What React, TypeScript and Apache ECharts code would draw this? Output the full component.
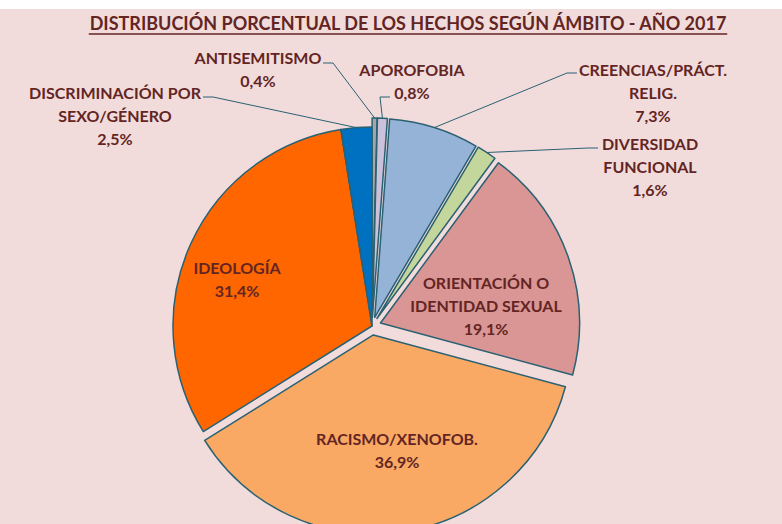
import React, { useEffect, useRef } from 'react';
import * as echarts from 'echarts';

// ---- data ----
const CATEGORIES = [
  'ANTISEMITISMO',
  'APOROFOBIA',
  'CREENCIAS/PRÁCT.\nRELIG.',
  'DIVERSIDAD\nFUNCIONAL',
  'ORIENTACIÓN O\nIDENTIDAD SEXUAL',
  'RACISMO/XENOFOB.',
  'IDEOLOGÍA',
  'DISCRIMINACIÓN POR\nSEXO/GÉNERO',
];
const PERCENTS = [0.4, 0.8, 7.3, 1.6, 19.1, 36.9, 31.4, 2.5];
const EXPLODED = [true, true, true, true, true, true, false, false];
const INSIDE = [false, false, false, false, true, true, true, false];
const TITLE = 'DISTRIBUCIÓN PORCENTUAL DE LOS HECHOS SEGÚN ÁMBITO - AÑO 2017';

// ---- styles / layout ----
const COLORS = ['#a6a6a6', '#ccc1da', '#95b3d7', '#c3d69b', '#da9694', '#f9a964', '#ff6600', '#0070c0'];
const TEXT_COLOR = '#632523';
const EDGE = '#2a6173';
const CENTER = [372, 326];
const RADIUS = 199;
const OFFSET = 9;
const LABEL_POS: number[][] = [
  [258, 68.5], [412, 80.5], [653, 92], [650, 166], [486, 305], [397, 449.5], [237, 278.5], [115, 115],
];
const LEADER_ATTACH: (number[] | null)[] = [
  [323, 63], [390, 97], [577, 73], [598, 148], null, null, null, [203, 97],
];
const FONT = 'Lato';

const fmt = (v: number) => v.toFixed(1).replace('.', ',') + '%';

export default function App() {
  const ref = useRef<HTMLDivElement>(null);
  useEffect(() => {
    document.body.style.margin = '0';
    const chart = echarts.init(ref.current!, null, { renderer: 'svg' });
    const total = PERCENTS.reduce((a, b) => a + b, 0);
    const midAngles: number[] = [];
    let acc = 0;
    PERCENTS.forEach((v) => {
      midAngles.push(((acc + v / 2) / total) * Math.PI * 2);
      acc += v;
    });

    const titleFont = `bold 18px ${FONT}`;
    const ctx = document.createElement('canvas').getContext('2d')!;
    ctx.font = titleFont;
    const tw = ctx.measureText(TITLE).width;
    const tx = 408;

    // one pie series per slice, so that each slice can be pulled out on its own
    const series = CATEGORIES.map((_, i) => {
      const off = EXPLODED[i] ? OFFSET : 0;
      const cx = CENTER[0] + off * Math.sin(midAngles[i]);
      const cy = CENTER[1] - off * Math.cos(midAngles[i]);
      return {
        type: 'pie',
        center: [cx, cy],
        radius: RADIUS,
        startAngle: 90,
        clockwise: true,
        avoidLabelOverlap: false,
        silent: true,
        label: {
          formatter: (p: any) => `${p.name}\n${fmt(p.value)}`,
          fontFamily: FONT,
          fontWeight: 'bold',
          fontSize: 16,
          color: TEXT_COLOR,
          lineHeight: 23,
          align: 'center',
        },
        labelLine: { lineStyle: { color: EDGE, width: 1 }, length: 10, length2: 10 },
        labelLayout: (params: any) => {
          const j = params.dataIndex;
          if (j !== i) return {};
          const [x, y] = LABEL_POS[j];
          const out: any = { x, y, align: 'center', verticalAlign: 'middle' };
          const att = LEADER_ATTACH[j];
          if (att) {
            const a = midAngles[j];
            const ax = cx + RADIUS * Math.sin(a);
            const ay = cy - RADIUS * Math.cos(a);
            const ex = att[0] + (ax < att[0] ? -10 : 10);
            out.labelLinePoints = [[ax, ay], [ex, att[1]], [att[0], att[1]]];
          }
          return out;
        },
        data: CATEGORIES.map((name, j) => ({
          name,
          value: PERCENTS[j],
          itemStyle:
            j === i
              ? { color: COLORS[j], borderColor: EDGE, borderWidth: 1.5 }
              : { color: 'rgba(0,0,0,0)', borderWidth: 0 },
          label: { show: j === i, position: INSIDE[j] ? 'inside' : 'outside' },
          labelLine: { show: j === i && !INSIDE[j] },
        })),
      };
    });

    chart.setOption({
      animation: false,
      backgroundColor: '#f2dcdb',
      graphic: [
        { type: 'rect', shape: { x: 0, y: 0, width: 782, height: 9 }, style: { fill: '#ffffff' }, silent: true },
        {
          type: 'text', x: tx, y: 23,
          style: { text: TITLE, font: titleFont, fill: TEXT_COLOR, align: 'center', verticalAlign: 'middle' },
        },
        {
          type: 'line', shape: { x1: tx - tw / 2, y1: 34, x2: tx + tw / 2, y2: 34 },
          style: { stroke: TEXT_COLOR, lineWidth: 1.5 },
        },
      ],
      series,
    });
    return () => chart.dispose();
  }, []);
  return <div ref={ref} style={{ width: 782, height: 524 }} />;
}
